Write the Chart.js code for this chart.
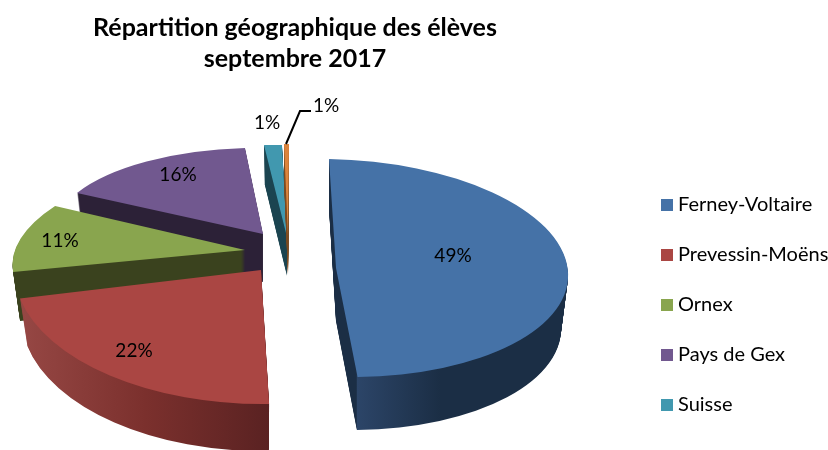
<!DOCTYPE html>
<html>
<head>
<meta charset="utf-8">
<style>
  html, body { margin: 0; padding: 0; background: #ffffff; }
  canvas { display: block; }
</style>
<script src="https://cdn.jsdelivr.net/npm/chart.js@4"></script>
</head>
<body>
<canvas id="chart" width="828" height="450"></canvas>
<script>
const titleLines = ["Répartition géographique des élèves", "septembre 2017"];
// the sixth slice has no readable name, the legend stops at Suisse
const categories = ["Ferney-Voltaire", "Prevessin-Moëns", "Ornex", "Pays de Gex", "Suisse", ""];
const values = [49, 22, 11, 16, 1, 1];
const topColors = ["#4572a7", "#aa4643", "#89a54e", "#71588f", "#4198af", "#db843d"];
const wallColors = ["#1b2e45", "#7b302d", "#3a421e", "#2c2137", "#1b4450", "#7a4a20"];

// per slice projection of the flat pie: pie centre, 2x2 matrix, wall height, label spot
const slices3d = [
  { tip: [336, 268], m: [232, 4, 7, 109], depth: 53, label: [453, 256] },
  { tip: [261, 270], m: [247, 5, -7.4, 134], depth: 47, label: [134, 351] },
  { tip: [245, 250], m: [229, 2.5, -40.6, 98.1], depth: 49, label: [60, 241] },
  { tip: [263, 234], m: [209.5, 4.9, -8.3, 86.1], depth: 48, label: [178, 175] },
  { tip: [287, 237], m: [286.8, 8.65, -13, 91.6], depth: 39, label: [267, 123] },
  { tip: [288, 236], m: [79.6, 2.9, -1, 92], depth: 39, label: [326, 106] },
];
const drawOrder = [3, 2, 1, 4, 5, 0];
const wallShrink = 0.03; // bottom of the walls is a bit narrower, fake perspective

function wallGradient(ctx, index, color) {
  if (index === 1) {
    const g = ctx.createLinearGradient(22, 0, 269, 0);
    g.addColorStop(0, "#964744");
    g.addColorStop(0.5, "#7b302d");
    g.addColorStop(1, "#5a2222");
    return g;
  }
  if (index === 0) {
    const g = ctx.createLinearGradient(350, 0, 440, 0);
    g.addColorStop(0, color);
    g.addColorStop(0.07, color);
    g.addColorStop(0.08, "#2c4568");
    g.addColorStop(1, color);
    return g;
  }
  return color;
}

function drawArcProjected(ctx, arc, s, dy, color) {
  const saved = arc.options;
  const R = arc.outerRadius;
  const sx = 1 - wallShrink * dy / s.depth;
  arc.options = Object.assign({}, saved, { backgroundColor: color, borderWidth: 0, offset: 0 });
  ctx.save();
  ctx.translate(s.tip[0], s.tip[1] + dy);
  ctx.transform(sx * s.m[0] / R, s.m[1] / R, sx * s.m[2] / R, s.m[3] / R, 0, 0);
  ctx.translate(-arc.x, -arc.y);
  arc.draw(ctx);
  ctx.restore();
  arc.options = saved;
}

function legendSwatch(color) {
  const c = document.createElement("canvas");
  c.width = 12;
  c.height = 12;
  const cx = c.getContext("2d");
  cx.fillStyle = color;
  cx.fillRect(0, 0, 12, 12);
  return c;
}

const pie3d = {
  id: "pie3d",
  afterLayout(chart) {
    // title is centred over the pie and the legend sits low on the right
    chart.titleBlock.right = 590;
    chart.legend.left = 666 - 30;
    chart.legend.top = 165;
    chart.legend.bottom = 450;
  },
  beforeDatasetDraw(chart) {
    const ctx = chart.ctx;
    const arcs = chart.getDatasetMeta(0).data;
    drawOrder.forEach((i) => {
      const s = slices3d[i];
      const off = document.createElement("canvas");
      off.width = chart.width;
      off.height = chart.height;
      const octx = off.getContext("2d");
      for (let d = s.depth; d > 0; d--) {
        drawArcProjected(octx, arcs[i], s, d, wallColors[i]);
      }
      octx.globalCompositeOperation = "source-atop";
      octx.fillStyle = wallGradient(octx, i, wallColors[i]);
      octx.fillRect(0, 0, off.width, off.height);
      ctx.drawImage(off, 0, 0);
      drawArcProjected(ctx, arcs[i], s, 0, topColors[i]);
    });
    return false;
  },
  afterDatasetsDraw(chart) {
    const ctx = chart.ctx;
    ctx.save();
    // leader line of the orange slice
    ctx.strokeStyle = "#000000";
    ctx.lineWidth = 2;
    ctx.beginPath();
    ctx.moveTo(286, 144);
    ctx.lineTo(300, 111);
    ctx.lineTo(311, 111);
    ctx.stroke();
    ctx.fillStyle = "#000000";
    ctx.font = "19px Lato, sans-serif";
    ctx.textAlign = "center";
    ctx.textBaseline = "middle";
    values.forEach((v, i) => {
      ctx.fillText(v + "%", slices3d[i].label[0], slices3d[i].label[1]);
    });
    ctx.restore();
  },
};

new Chart(document.getElementById("chart"), {
  type: "pie",
  data: {
    labels: categories,
    datasets: [{ data: values, backgroundColor: topColors, borderWidth: 0 }],
  },
  options: {
    responsive: false,
    animation: false,
    plugins: {
      title: {
        display: true,
        text: titleLines,
        color: "#000000",
        font: { family: "Lato, sans-serif", size: 25, weight: "bold", lineHeight: 1.24 },
        padding: { top: 12, bottom: 10 },
      },
      legend: {
        position: "right",
        align: "start",
        labels: {
          usePointStyle: true,
          boxWidth: 2,
          padding: 30,
          color: "#000000",
          font: { family: "Lato, sans-serif", size: 20 },
          generateLabels(chart) {
            const items = Chart.overrides.doughnut.plugins.legend.labels.generateLabels(chart);
            items.forEach((item, i) => { item.pointStyle = legendSwatch(topColors[i]); });
            return items;
          },
          filter: (item) => item.text !== "",
        },
      },
      tooltip: { enabled: false },
    },
  },
  plugins: [pie3d],
});
</script>
</body>
</html>
